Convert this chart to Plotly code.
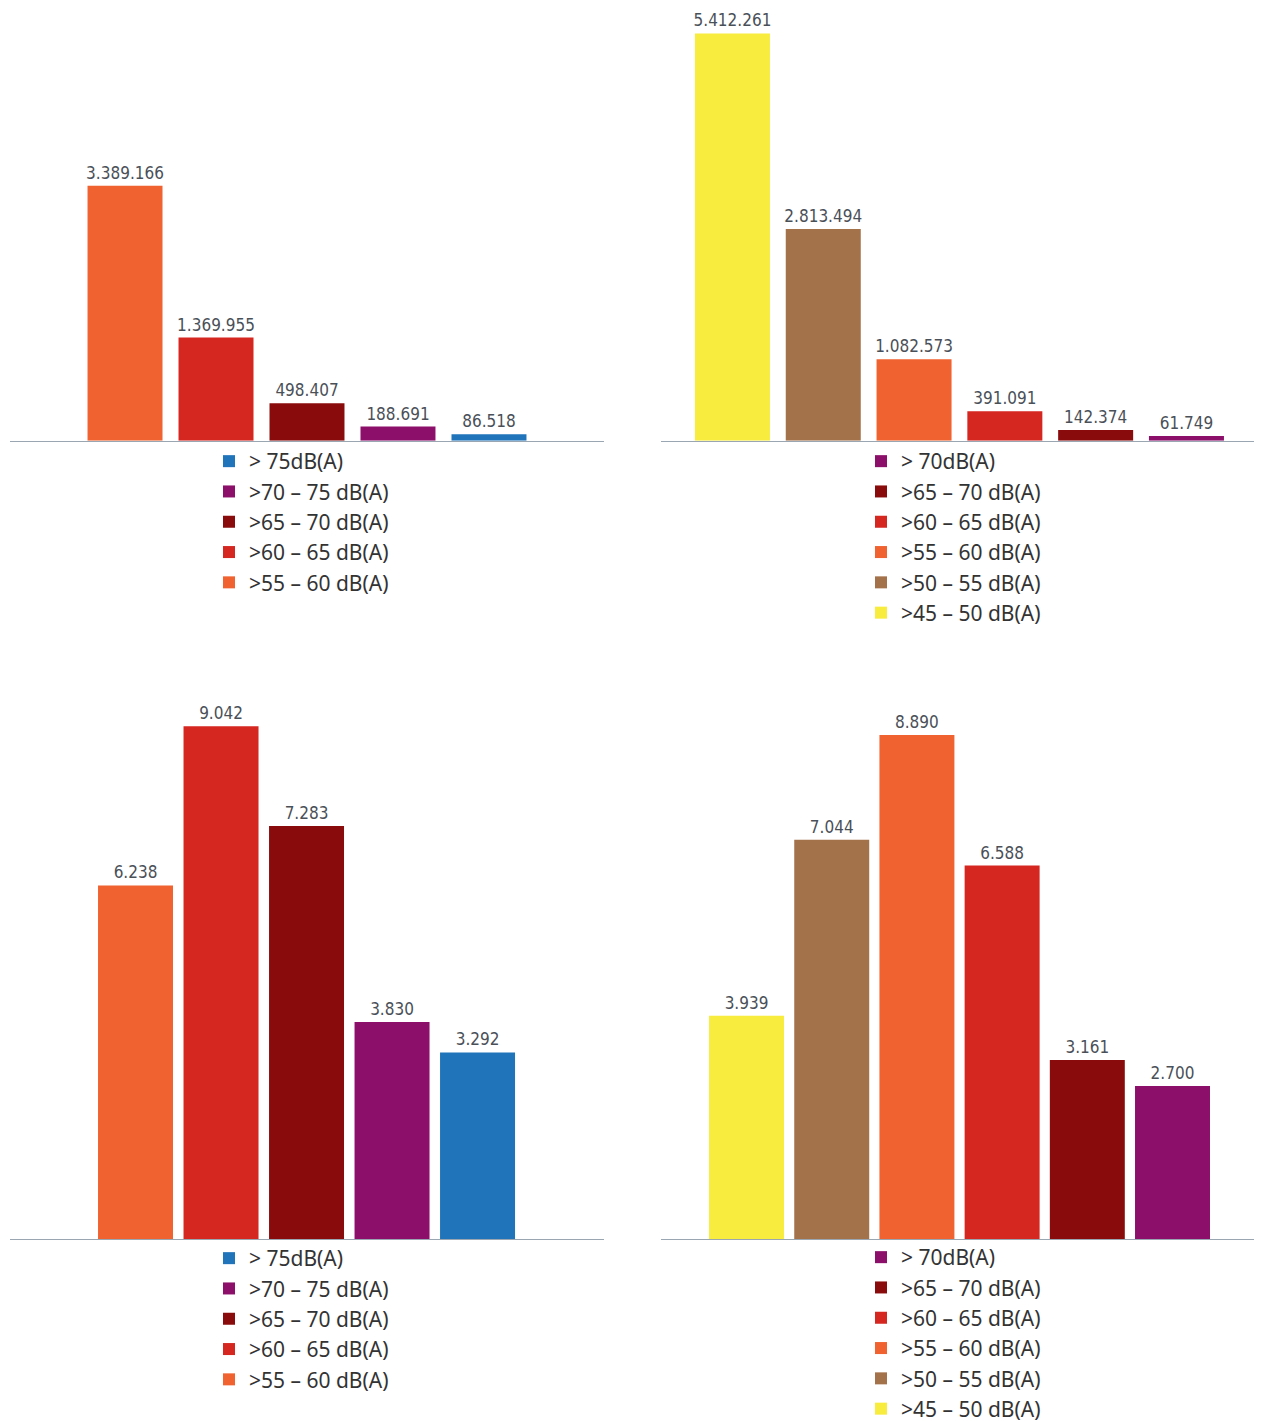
import plotly.graph_objects as go

# the page body adds an 8px margin: figure coordinates = page pixels - 8
OFF = 8
W, H = 1262, 1421

# ---- data ----
tl_categories = [">55 – 60 dB(A)", ">60 – 65 dB(A)", ">65 – 70 dB(A)", ">70 – 75 dB(A)", "> 75dB(A)"]
tl_values = [3389166, 1369955, 498407, 188691, 86518]

tr_categories = [">45 – 50 dB(A)", ">50 – 55 dB(A)", ">55 – 60 dB(A)", ">60 – 65 dB(A)", ">65 – 70 dB(A)", "> 70dB(A)"]
tr_values = [5412261, 2813494, 1082573, 391091, 142374, 61749]

bl_categories = [">55 – 60 dB(A)", ">60 – 65 dB(A)", ">65 – 70 dB(A)", ">70 – 75 dB(A)", "> 75dB(A)"]
bl_values = [6238, 9042, 7283, 3830, 3292]

br_categories = [">45 – 50 dB(A)", ">50 – 55 dB(A)", ">55 – 60 dB(A)", ">60 – 65 dB(A)", ">65 – 70 dB(A)", "> 70dB(A)"]
br_values = [3939, 7044, 8890, 6588, 3161, 2700]

# ---- styles ----
YELLOW, BROWN, ORANGE, RED, DARKRED, PURPLE, BLUE = (
    "#F8EC3E", "#A4724A", "#F0622F", "#D52620", "#8A0B0C", "#8C0F6A", "#1F74BA")
left_colors = [ORANGE, RED, DARKRED, PURPLE, BLUE]
right_colors = [YELLOW, BROWN, ORANGE, RED, DARKRED, PURPLE]

LABEL_FONT = dict(family="DejaVu Sans Condensed, Liberation Sans Narrow, Roboto", size=17, color="#4A5058")
LEG_FONT = dict(family="Noto Sans, Open Sans, sans-serif", size=21, color="#333333")

def px_x(a, b):
    return [max(0, (a - OFF) / W), min(1, (b - OFF) / W)]

def px_y(top, bottom):
    return [max(0, 1 - (bottom - OFF) / H), min(1, 1 - (top - OFF) / H)]

TOP_SCALE = 75.3e-6   # px per person (top row)
BOT_SCALE = 0.05675   # px per unit (bottom row)

panels = [
    # cats, vals, colors, axis id, legend id, x domain px, y domain px, xrange, yrange, width, legend pos px
    (tl_categories, tl_values, left_colors, "", "legend", (10, 604), (8, 441), (-1.264, 5.264), (0, 433 / TOP_SCALE), 0.824, (209, 441)),
    (tr_categories, tr_values, right_colors, "2", "legend2", (661, 1256), (8, 441), (-0.787, 5.766), (0, 433 / TOP_SCALE), 0.826, (861, 441)),
    (bl_categories, bl_values, left_colors, "3", "legend3", (10, 604), (640, 1240), (-1.468, 5.479), (0, 600 / BOT_SCALE), 0.877, (209, 1238)),
    (br_categories, br_values, right_colors, "4", "legend4", (661, 1256), (640, 1240), (-1.004, 5.98), (0, 600 / BOT_SCALE), 0.88, (861, 1238)),
]

fig = go.Figure()
layout = dict(
    width=W, height=H, margin=dict(l=0, r=0, t=0, b=0),
    paper_bgcolor="white", plot_bgcolor="white",
    barmode="overlay", separators=",.", showlegend=True,
)

for cats, vals, cols, ax, leg, xd, yd, xr, yr, bw, lp in panels:
    for c, v, col in zip(cats, vals, cols):
        fig.add_trace(go.Bar(
            x=[c], y=[v], name=c, marker=dict(color=col, line=dict(width=0)),
            width=bw, texttemplate="%{y:,}", textposition="outside",
            textfont=LABEL_FONT, cliponaxis=False, constraintext="none",
            xaxis="x" + ax, yaxis="y" + ax, legend=leg, hoverinfo="skip",
        ))
    layout["xaxis" + ax] = dict(
        domain=px_x(*xd), range=list(xr), showline=True, linecolor="#9AA6B2", linewidth=1,
        showticklabels=False, ticks="", showgrid=False, zeroline=False,
        anchor="y" + ax, fixedrange=True,
    )
    layout["yaxis" + ax] = dict(
        domain=px_y(*yd), range=list(yr), visible=False, anchor="x" + ax, fixedrange=True,
    )
    layout[leg] = dict(
        x=(lp[0] - OFF) / W, y=1 - (lp[1] - OFF) / H, xanchor="left", yanchor="top",
        traceorder="reversed", font=LEG_FONT, bgcolor="rgba(0,0,0,0)",
        itemclick=False, itemdoubleclick=False, tracegroupgap=0,
    )

fig.update_layout(**layout)
fig.write_html("out.html")
